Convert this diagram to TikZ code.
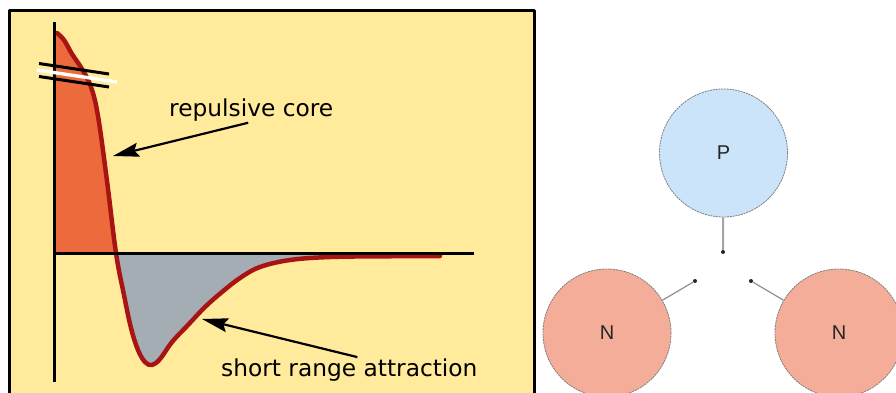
\documentclass[tikz,border=0pt]{standalone}
\usepackage{fontspec}
\setmainfont{Liberation Sans}
\newfontfamily\labelfont{DejaVu Sans}
\usetikzlibrary{arrows.meta}
\definecolor{paper}{HTML}{FFEB9B}
\definecolor{ink}{HTML}{000000}
\definecolor{core}{HTML}{EC6A3B}
\definecolor{well}{HTML}{A5ADB4}
\definecolor{curve}{HTML}{A81414}
\definecolor{proton}{HTML}{CCE4FA}
\definecolor{neutron}{HTML}{F3AD98}
\definecolor{rim}{HTML}{7F7F7F}
\definecolor{bond}{HTML}{8F8F8F}
\definecolor{glyph}{HTML}{262626}

\begin{document}
\begin{tikzpicture}[
  x=1pt, y=-1pt,
  line join=round,
  axis/.style={draw=ink, line width=3.2pt},
  pot/.style={draw=curve, line width=4.5pt, line cap=round},
  % šipka od popisku ke křivce
  pointer/.style={draw=ink, line width=2.2pt, -{Stealth[length=26pt,width=14pt,inset=4pt]}},
  lbl/.style={font=\labelfont\fontsize{23.3}{28}\selectfont, text=ink, inner sep=1pt, anchor=base west},
  nucleon/.style={circle, minimum size=128pt, inner sep=0pt, draw=rim, line width=0.8pt,
    dash pattern=on 2pt off 0.8pt, font=\fontsize{20}{24}\selectfont, text=glyph},
  bond/.style={draw=bond, line width=1.2pt},
  dot/.style={fill=ink!85, circle, inner sep=0pt, minimum size=4pt},
]
\useasboundingbox (0,0) rectangle (896,393);
\clip (0,0) rectangle (896,393);

% --- Panel s potenciálem (dole uříznutý)
\filldraw[fill=paper, draw=ink, line width=2.7pt]
  (9.3,400) -- (9.3,10.7) -- (534.7,10.7) -- (534.7,400);

% --- Průběh potenciálu: odpudivé jádro, jáma, pozvolný návrat k nule
\def\potential{plot[smooth, tension=0.6] coordinates {
  (57,33) (64,40) (72,54) (82,69) (91,87) (98,116) (107,181) (116,253)
  (124,295) (131,328) (138,350) (145,362) (152,365) (160,359)
  (172,342) (188,325) (205,307) (222,292) (240,278) (260,267)
  (290,260) (330,257) (385,256.3) (440,256)}}
\fill[well] \potential -- (440,253) -- (55,253) -- (55,33) -- cycle;
\begin{scope}
  \clip (0,0) rectangle (300,253);
  \fill[core] \potential -- (440,253) -- (55,253) -- (55,33) -- cycle;
\end{scope}
\draw[pot] \potential;

% --- Osy
\draw[axis] (54.7,22) -- (54.7,382);
\draw[axis] (54,253.3) -- (474,253.3);

% --- Přerušení osy
\draw[ink, line width=3pt] (39,63.5) -- (109,74) (39,76.5) -- (109,87);
\draw[white, line width=3.4pt] (37,70) -- (117,82);

% --- Popisky
\node[lbl] (rc) at (168,116.7) {repulsive core};
\node[lbl] (sra) at (220,376) {short range attraction};
\coordinate (coretip) at (113,156);
\coordinate (welltip) at (202,319);
\draw[pointer] ([xshift=-3pt]rc.south) -- (coretip);
\draw[pointer] ([xshift=8pt]sra.north) -- (welltip);

% --- Nukleony
\node[nucleon, fill=proton] (p) at (723.5,153) {P};
\node[nucleon, fill=neutron] (nl) at (607,333) {N};
\node[nucleon, fill=neutron] (nr) at (839,333) {N};
\node[dot] (dp) at (723,252) {};
\node[dot] (dl) at (695,281) {};
\node[dot] (dr) at (751,281) {};
\draw[bond, line width=2pt, draw=bond!80] (p) -- (dp);
\draw[bond] (nl) -- (dl);
\draw[bond] (nr) -- (dr);
\end{tikzpicture}
\end{document}
